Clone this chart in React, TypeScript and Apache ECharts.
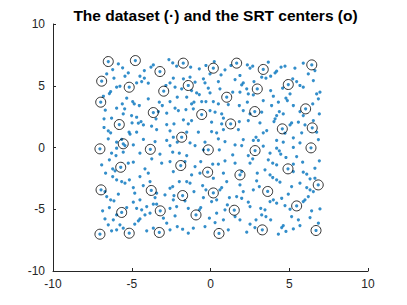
import React, { useEffect, useRef } from "react";
import * as echarts from "echarts";

const titleText = "The dataset (\u00b7) and the SRT centers (o)";
const xTicks = [-10, -5, 0, 5, 10];
const yTicks = [-10, -5, 0, 5, 10];

// dataset points, upper-left block
const dotsA: [number, number][] = [
  [-2.64,7.12],[-5.85,6.77],[-5.58,6.45],[-6.21,6.31],[-3.63,6.69],[-3.78,6.50],[-4.20,6.23],[-5.22,6.04],[-5.43,5.77],[-6.59,5.96],[-4.48,5.77],[-4.20,5.61],[-6.13,5.61],[-5.75,4.96],[-5.96,4.88],[-4.69,5.23],[-4.37,5.34],[-3.95,5.21],[-2.83,5.02],[-2.57,5.23],[-6.34,4.53],[-6.42,4.37],[-6.80,4.15],[-5.32,3.99],[-4.94,3.72],[-4.84,3.53],[-4.52,3.40],[-3.95,3.94],[-3.25,3.67],[-3.06,3.40],[-2.57,3.72],[-5.60,3.53],[-6.68,3.02],[-5.96,3.18],[-5.45,3.13],[-5.54,2.72],[-5.01,2.59],[-4.69,2.45],[-4.41,2.10],[-3.31,2.91],[-3.46,2.32],[-2.78,2.78],[-6.76,2.32],[-6.28,2.37],[-6.76,1.62],[-6.49,1.35],[-6.34,1.19],[-4.98,1.99],[-4.58,1.97],[-4.26,1.83],[-5.17,1.24],[-5.11,1.08],[-4.69,1.24],[-3.74,1.73],[-3.42,1.45],[-2.78,1.86],[-2.57,1.35],[-6.49,0.70],[-5.64,0.65],[-5.96,0.43],[-5.43,0.16],[-4.90,0.21],[-4.26,0.65],[-3.52,0.48],[-2.78,0.57],[-2.57,0.16],[-5.96,-0.06]
];
// upper-middle block
const dotsB: [number, number][] = [
  [-2.40,6.85],[-2.15,6.58],[-1.26,6.50],[-0.71,6.37],[-0.29,6.64],[0.24,6.96],[0.67,5.88],[0.50,5.34],[0.92,6.29],[1.30,6.64],[1.87,5.83],[2.34,6.69],[2.51,6.42],[-2.36,5.61],[-1.72,5.56],[-1.30,5.69],[-0.98,5.29],[-0.45,5.56],[-0.35,5.23],[-0.03,5.96],[1.56,5.50],[2.08,5.23],[1.98,5.07],[2.30,4.75],[-2.25,4.88],[-1.83,4.75],[-1.20,4.61],[-0.88,4.42],[-0.71,4.29],[-0.14,4.80],[-0.03,4.42],[0.60,4.75],[1.41,4.48],[1.87,4.48],[2.40,4.34],[-2.11,4.07],[-1.51,4.07],[-1.20,3.53],[-1.05,3.67],[-0.56,3.72],[-0.29,3.72],[0.18,3.72],[0.50,3.53],[1.13,3.48],[1.83,3.40],[2.34,3.67],[-2.25,3.18],[-2.04,2.99],[-1.56,3.07],[-1.09,3.13],[-0.03,2.99],[0.29,2.86],[0.71,2.72],[0.82,2.37],[2.08,2.99],[2.51,2.72],[-2.32,1.91],[-1.72,2.24],[-1.20,2.18],[-1.41,1.91],[0.07,2.05],[0.71,1.91],[1.83,2.10],[2.40,2.18],[-1.51,1.24],[-0.77,1.24],[0.07,1.29],[0.39,1.19],[0.82,1.45],[1.77,1.45],[-2.11,0.43],[-1.30,0.37],[-0.98,0.16],[-0.35,0.43],[0.50,0.70],[0.92,0.48],[1.56,0.21],[2.08,0.64],[1.98,0.16],[-2.36,0.83]
];
// upper-right block
const dotsC: [number, number][] = [
  [2.68,6.58],[3.67,6.91],[3.25,5.69],[4.10,6.04],[4.20,6.18],[4.48,6.50],[4.73,6.58],[5.36,6.42],[5.89,6.83],[6.63,6.23],[6.21,5.96],[6.53,5.42],[2.76,5.34],[3.52,5.61],[3.82,5.77],[5.22,5.56],[5.47,5.34],[5.68,5.02],[5.89,4.88],[4.58,4.80],[3.82,4.61],[5.05,4.34],[4.79,3.99],[4.88,3.80],[3.99,4.15],[3.35,3.80],[2.72,4.26],[4.31,3.67],[3.88,3.40],[5.26,3.40],[6.74,4.34],[6.95,4.48],[6.85,3.94],[6.49,3.53],[3.25,2.86],[4.37,2.91],[4.62,2.72],[4.20,2.59],[5.68,2.91],[5.89,2.59],[6.91,2.72],[3.14,1.99],[4.10,2.32],[4.03,2.10],[5.05,1.83],[5.15,1.99],[5.58,2.05],[6.00,1.83],[6.53,2.18],[3.57,1.37],[3.35,1.19],[2.89,0.83],[4.73,1.16],[5.26,0.78],[5.79,1.19],[6.85,0.64],[2.72,0.57],[3.04,0.57],[4.20,0.57],[4.62,0.43],[5.68,0.37],[5.26,0.01],[3.35,0.11],[4.20,-0.06],[6.74,1.24]
];
// lower-left block
const dotsD: [number, number][] = [
  [-6.28,-0.46],[-6.00,-0.65],[-5.54,-0.38],[-6.42,-1.00],[-6.91,-1.41],[-6.21,-1.73],[-6.06,-1.89],[-6.66,-2.08],[-5.22,-1.27],[-4.90,-1.19],[-4.48,-0.46],[-3.21,-0.54],[-3.10,-1.27],[-3.73,-0.92],[-2.57,-1.14],[-4.16,-1.73],[-3.95,-2.08],[-4.48,-2.35],[-6.21,-2.35],[-5.96,-2.62],[-5.64,-2.76],[-5.43,-2.89],[-5.15,-2.62],[-3.84,-2.76],[-4.27,-3.08],[-4.90,-3.24],[-4.81,-3.70],[-5.85,-3.78],[-6.59,-3.97],[-6.34,-4.24],[-6.13,-4.32],[-6.70,-3.57],[-3.52,-4.05],[-3.42,-3.70],[-2.89,-3.84],[-2.57,-3.30],[-4.48,-4.24],[-4.90,-4.43],[-5.32,-4.86],[-6.42,-4.86],[-6.85,-5.13],[-5.96,-5.46],[-6.17,-5.86],[-6.70,-5.78],[-6.49,-6.26],[-4.69,-4.92],[-4.37,-5.05],[-4.05,-4.78],[-4.16,-5.46],[-4.48,-5.78],[-4.58,-5.94],[-3.84,-5.32],[-3.42,-4.59],[-3.63,-4.59],[-2.57,-4.92],[-2.99,-5.72],[-2.78,-6.13],[-5.75,-6.26],[-5.54,-6.53],[-5.96,-6.67],[-6.28,-6.75],[-4.81,-6.21],[-4.05,-6.75],[-3.63,-6.53],[-2.57,-6.67]
];
// lower-middle block
const dotsE: [number, number][] = [
  [-2.40,-0.38],[-1.98,-0.46],[-1.51,-0.65],[-0.45,-0.19],[0.56,-0.19],[1.41,-0.60],[2.40,-0.65],[-1.62,-1.14],[-0.98,-1.54],[-0.62,-1.14],[0.14,-1.35],[0.50,-1.35],[0.92,-1.08],[1.56,-1.27],[2.51,-1.27],[-2.36,-1.95],[-1.20,-2.22],[-0.67,-2.08],[0.18,-2.49],[0.82,-2.08],[1.03,-2.76],[1.98,-1.95],[-2.40,-3.16],[-1.98,-2.76],[-1.51,-2.76],[-1.30,-2.89],[-1.05,-3.57],[-0.50,-3.08],[-0.29,-3.43],[0.60,-3.43],[0.71,-3.24],[1.87,-3.03],[2.08,-3.57],[-2.32,-3.89],[-2.36,-4.24],[-2.15,-4.78],[-1.62,-4.32],[-0.45,-4.05],[0.07,-4.38],[0.39,-4.24],[1.20,-4.05],[1.66,-3.97],[1.98,-4.11],[2.40,-4.43],[2.51,-4.78],[-2.25,-5.54],[-1.41,-4.92],[-0.71,-5.05],[-0.62,-4.86],[-0.07,-5.72],[0.39,-5.32],[0.92,-5.05],[1.07,-4.65],[1.56,-5.59],[1.87,-5.86],[-2.11,-6.40],[-1.77,-6.62],[-1.41,-6.94],[-1.09,-6.53],[-0.35,-6.40],[0.29,-6.08],[0.82,-5.86],[1.13,-6.67],[2.30,-6.86],[2.51,-6.21]
];
// lower-right block
const dotsF: [number, number][] = [
  [2.68,-0.92],[3.78,-0.46],[4.37,-0.27],[4.46,-0.54],[4.79,-0.81],[5.47,-0.73],[3.67,-1.00],[3.95,-1.27],[4.20,-1.41],[5.26,-1.35],[5.85,-1.19],[6.91,-1.08],[3.46,-1.81],[2.97,-2.08],[3.78,-2.22],[3.95,-2.43],[4.20,-2.62],[4.41,-2.81],[2.93,-2.70],[2.72,-3.43],[3.10,-3.16],[5.26,-1.95],[5.89,-2.00],[6.11,-2.16],[6.63,-1.68],[6.32,-2.54],[5.68,-2.89],[5.15,-3.16],[6.63,-2.49],[6.32,-3.43],[6.11,-3.24],[6.53,-3.57],[4.94,-3.78],[4.52,-4.11],[3.99,-4.24],[3.78,-4.38],[4.20,-4.51],[5.89,-4.38],[6.00,-4.24],[6.21,-3.97],[6.95,-4.97],[4.73,-4.70],[5.05,-5.00],[3.19,-4.92],[3.46,-5.05],[3.25,-5.46],[3.52,-5.59],[2.89,-5.86],[3.82,-5.86],[5.15,-5.59],[5.58,-5.86],[6.42,-5.13],[6.32,-5.67],[6.85,-6.13],[2.82,-6.48],[4.52,-6.48],[4.62,-6.32],[4.79,-6.80],[5.26,-6.59],[5.68,-6.32],[4.31,-7.02]
];
// SRT centers (also members of the dataset)
const centers: [number, number][] = [
  [-6.49,6.96],[-4.77,7.04],[-6.91,5.37],[-3.21,6.15],[-5.16,4.88],[-2.97,4.56],[-6.97,3.67],[-3.63,2.83],[-5.79,1.86],[-5.54,0.30],[-7.02,-0.11],[-3.82,-0.15],
  [-1.73,6.83],[0.18,6.42],[1.66,6.83],[-1.41,5.02],[1.03,4.07],[-0.56,2.67],[1.28,1.91],[-1.83,0.83],[-0.14,-0.19],
  [3.35,6.32],[6.43,6.69],[2.97,4.74],[4.94,5.10],[2.81,2.91],[6.04,3.13],[4.56,1.51],[6.46,1.59],[6.38,-0.03],[2.83,-0.25],
  [-5.70,-1.60],[-6.95,-3.43],[-3.76,-3.48],[-5.64,-5.26],[-3.19,-5.13],[-7.02,-7.02],[-5.16,-6.94],[-3.25,-6.88],
  [-1.89,-1.46],[-0.18,-2.00],[1.87,-2.22],[-1.77,-3.89],[0.18,-3.68],[-0.92,-5.46],[1.51,-5.08],[0.54,-6.96],
  [4.92,-1.73],[6.84,-3.03],[3.63,-3.56],[5.47,-4.73],[3.29,-6.67],[6.70,-6.72]
];

export default function App() {
  const ref = useRef<HTMLDivElement>(null);
  useEffect(() => {
    if (!ref.current) return;
    const chart = echarts.init(ref.current, null, { renderer: "svg" });
    const font = "'Liberation Sans', Arial, Helvetica, sans-serif";
    const axisColor = "#262626";
    const dataset = [...dotsA, ...dotsB, ...dotsC, ...dotsD, ...dotsE, ...dotsF, ...centers];
    const axisCommon = (ticks: number[], margin: number) => ({
      type: "value" as const,
      min: ticks[0],
      max: ticks[ticks.length - 1],
      interval: ticks[1] - ticks[0],
      axisLine: { show: true, onZero: false, lineStyle: { color: axisColor, width: 1 } },
      axisTick: { show: true, inside: true, length: 3, lineStyle: { color: axisColor } },
      splitLine: { show: false },
      axisLabel: {
        color: axisColor,
        fontSize: 12,
        fontFamily: font,
        margin,
        showMinLabel: true,
        showMaxLabel: true,
      },
    });
    chart.setOption({
      animation: false,
      title: {
        text: titleText,
        left: 210.5,
        textAlign: "center",
        top: 2,
        textStyle: { fontSize: 15.5, fontWeight: "bold", color: "#000", fontFamily: font },
      },
      grid: { left: 53, right: 39, top: 24, bottom: 34, containLabel: false },
      xAxis: axisCommon(xTicks, 7),
      yAxis: axisCommon(yTicks, 8),
      series: [
        {
          name: "dataset",
          type: "scatter",
          data: dataset,
          symbol: "circle",
          symbolSize: 3.2,
          itemStyle: { color: "#0072BD" },
          silent: true,
        },
        {
          name: "centers",
          type: "scatter",
          data: centers,
          symbol: "circle",
          symbolSize: 10,
          itemStyle: { color: "none", borderColor: "#000", borderWidth: 1 },
          silent: true,
          z: 3,
        },
      ],
    });
    return () => chart.dispose();
  }, []);
  return <div ref={ref} style={{ width: 407, height: 305, margin: -8 }} />;
}
